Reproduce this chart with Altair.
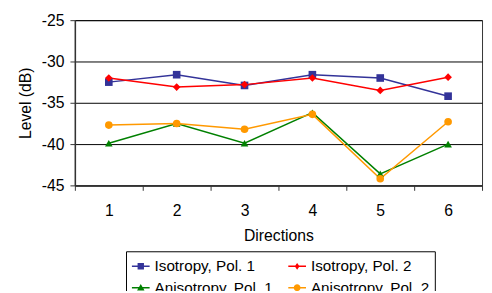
import altair as alt
import pandas as pd

directions = ["1", "2", "3", "4", "5", "6"]
series_names = ["Isotropy, Pol. 1", "Isotropy, Pol. 2", "Anisotropy, Pol. 1", "Anisotropy, Pol. 2"]
iso_pol1 = [-32.5, -31.6, -32.9, -31.6, -32.0, -34.2]
iso_pol2 = [-32.0, -33.1, -32.8, -32.0, -33.5, -31.9]
aniso_pol1 = [-39.9, -37.5, -39.9, -36.2, -43.6, -40.0]
aniso_pol2 = [-37.7, -37.5, -38.2, -36.4, -44.2, -37.3]
colors = ["#333399", "#FF0000", "#008000", "#FF9900"]
shapes = ["square", "diamond", "triangle-up", "circle"]
y_ticks = [-45, -40, -35, -30, -25]

values = [iso_pol1, iso_pol2, aniso_pol1, aniso_pol2]
rows = []
for name, vals in zip(series_names, values):
    for d, v in zip(directions, vals):
        rows.append({"Direction": d, "Level": v, "Series": name})
df = pd.DataFrame(rows)

# legend symbols: thin filled bar (the line) with the marker in the middle
BAR = "M-1,-0.08L1,-0.08L1,0.08L-1,0.08Z"
legend_paths = [
    BAR + "M-0.36,-0.36L0.36,-0.36L0.36,0.36L-0.36,0.36Z",
    BAR + "M0,-0.38L0.27,0L0,0.38L-0.27,0Z",
    BAR + "M0,-0.42L0.42,0.32L-0.42,0.32Z",
    BAR + "M0.38,0A0.38,0.38 0 1,1 -0.38,0A0.38,0.38 0 1,1 0.38,0Z",
]

FONT = "Liberation Sans"
FS = 16

x = alt.X(
    "Direction:N",
    sort=directions,
    scale=alt.Scale(type="band", paddingInner=0, paddingOuter=0),
    axis=alt.Axis(
        title="Directions", tickBand="extent", labelAngle=0, tickSize=5,
        labelPadding=13, titlePadding=9, grid=False,
    ),
)
y = alt.Y(
    "Level:Q",
    scale=alt.Scale(domain=[-45, -25], nice=False),
    axis=alt.Axis(
        title="Level (dB)", values=y_ticks, tickSize=5, labelPadding=6, titlePadding=8, grid=True,
        labelExpr="datum.value < 0 ? '-' + abs(datum.value) : '' + datum.value",
    ),
)

lines = alt.Chart(df).mark_line(strokeWidth=1.5).encode(
    x=x, y=y,
    color=alt.Color("Series:N", scale=alt.Scale(domain=series_names, range=colors), legend=None),
)

points = alt.Chart(df).mark_point(filled=True, size=60, opacity=1).encode(
    x=x, y=y,
    color=alt.Color("Series:N", scale=alt.Scale(domain=series_names, range=colors), legend=None),
    shape=alt.Shape("Series:N", scale=alt.Scale(domain=series_names, range=shapes), legend=None),
)

legend_spec = dict(
    title=None, orient="none", legendX=52, legendY=235, columns=2, direction="horizontal",
    symbolSize=324, labelFont=FONT, labelFontSize=15.5, labelColor="black",
    strokeColor="black", padding=5, fillColor="white", columnPadding=12,
    rowPadding=3, labelOffset=4, labelLimit=250, symbolOpacity=1,
)

legend_layer = alt.Chart(df).transform_filter("false").mark_point(filled=True, opacity=1).encode(
    x=x, y=y,
    color=alt.Color("Series:N", scale=alt.Scale(domain=series_names, range=colors),
                    legend=alt.Legend(**legend_spec)),
    shape=alt.Shape("Series:N", scale=alt.Scale(domain=series_names, range=legend_paths),
                    legend=alt.Legend(**legend_spec)),
)

chart = (
    alt.layer(lines, points, legend_layer)
    .resolve_scale(shape="independent", color="independent")
    .properties(
        width=414, height=168,
        autosize=alt.AutoSizeParams(type="none"),
        padding={"left": 68, "top": 10, "right": 2, "bottom": 105},
    )
    .configure_view(stroke="#333333", strokeWidth=1)
    .configure_axis(
        labelFont=FONT, titleFont=FONT, labelFontSize=FS, titleFontSize=FS,
        labelColor="black", titleColor="black", titleFontWeight="normal",
        domainColor="#333333", tickColor="#333333", gridColor="#000000",
        gridOpacity=1, domainWidth=1.5,
    )
)

chart.save("out.html", embed_options={"renderer": "svg", "actions": False})
